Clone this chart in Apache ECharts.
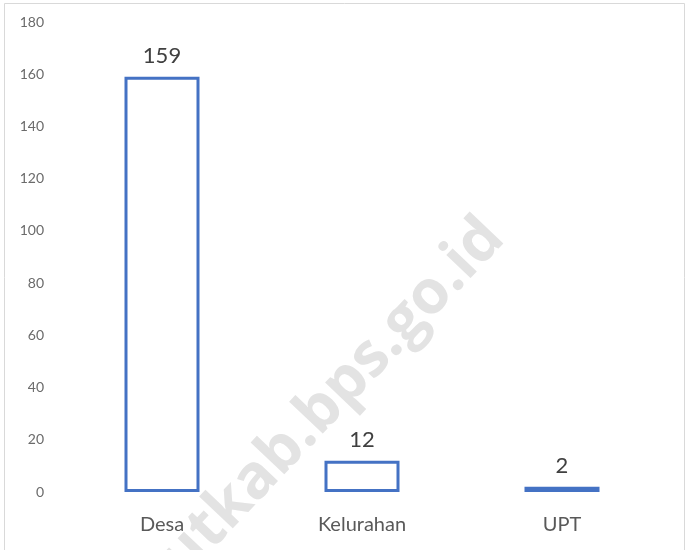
<!DOCTYPE html>
<html>
<head>
<meta charset="utf-8">
<script src="https://cdn.jsdelivr.net/npm/echarts@6/dist/echarts.min.js"></script>
<style>
  html, body { margin: 0; padding: 0; background: #fff; }
  #chart { width: 686px; height: 550px; }
</style>
</head>
<body>
<div id="chart"></div>
<script>
// data
var categories = ['Desa', 'Kelurahan', 'UPT'];
var values = [159, 12, 2];
var yMin = 0, yMax = 180, yStep = 20;

var chart = echarts.init(document.getElementById('chart'));

var option = {
    backgroundColor: '#ffffff',
    animation: false,
    grid: { left: 62, right: 24, top: 22, bottom: 58 },
    graphic: [
        {
            // chart area border
            type: 'rect',
            shape: { x: 4.5, y: 3.5, width: 680, height: 560 },
            style: { fill: 'none', stroke: '#d9d9d9', lineWidth: 1 },
            silent: true,
            z: 0
        },
        {
            // watermark
            type: 'text',
            x: 494, y: 228,
            rotation: 46.5 * Math.PI / 180,
            style: {
                text: 'lautkab.bps.go.id',
                fontFamily: 'Open Sans',
                fontWeight: 'bold',
                fontSize: 61,
                fill: '#e3e3e3',
                textAlign: 'right',
                textVerticalAlign: 'middle'
            },
            silent: true,
            z: 1
        }
    ],
    xAxis: {
        type: 'category',
        data: categories,
        z: 5,
        axisLine: { show: false },
        axisTick: { show: false },
        axisLabel: { color: '#595959', fontFamily: 'Lato', fontSize: 20, margin: 23 }
    },
    yAxis: {
        type: 'value',
        min: yMin,
        max: yMax,
        interval: yStep,
        splitLine: { show: false },
        axisLine: { show: false },
        axisTick: { show: false },
        axisLabel: { color: '#6b6b6b', fontFamily: 'Lato', fontSize: 14, margin: 18 }
    },
    series: [{
        type: 'bar',
        data: values,
        barWidth: 75,
        z: 3,
        itemStyle: { color: '#ffffff', borderColor: '#4472C4', borderWidth: 3 },
        label: {
            show: true,
            position: 'top',
            distance: 10,
            color: '#404040',
            fontFamily: 'Lato',
            fontSize: 22
        }
    }]
};

chart.setOption(option);
</script>
</body>
</html>
